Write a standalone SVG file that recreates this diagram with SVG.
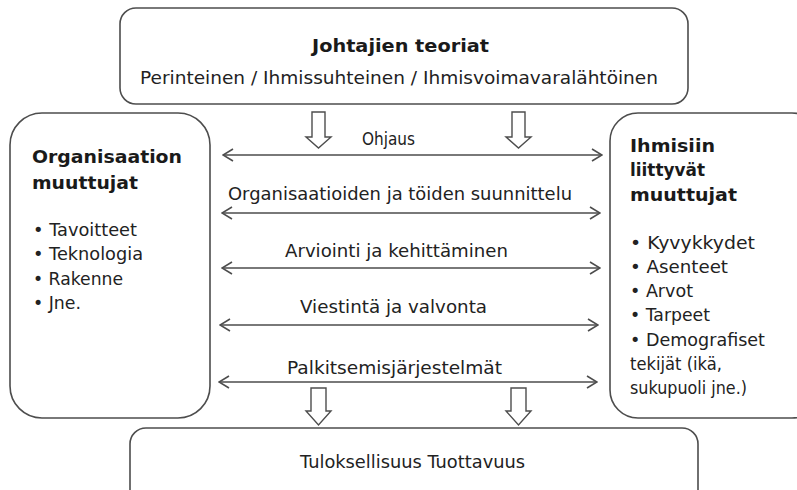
<svg xmlns="http://www.w3.org/2000/svg" width="797" height="490" viewBox="0 0 797 490">
<style>
.box{fill:#fff;stroke:#4d4d4d;stroke-width:1.6}
.t{font-family:"DejaVu Sans","Verdana",sans-serif;font-size:17px;fill:#222}
.b{font-family:"DejaVu Sans","Verdana",sans-serif;font-size:18px;fill:#222}
.h{font-family:"DejaVu Sans","Verdana",sans-serif;font-size:18px;font-weight:bold;fill:#1a1a1a}
.c{stroke:#4d4d4d;stroke-width:1.6;fill:none}
.hollow{fill:#fff;stroke:#4d4d4d;stroke-width:1.4;stroke-linejoin:miter}
</style>
<defs>
<marker id="open" viewBox="0 0 12 14" refX="11" refY="7" markerWidth="12" markerHeight="14" markerUnits="userSpaceOnUse" orient="auto-start-reverse">
<path d="M1,1 L11,7 L1,13" fill="none" stroke="#4d4d4d" stroke-width="1.6"/>
</marker>
</defs>
<rect width="797" height="490" fill="#fff"/>
<g id="node-top">
<rect class="box" x="120" y="8" width="568" height="96" rx="16"/>
<text class="h" x="312" y="52" textLength="177" lengthAdjust="spacingAndGlyphs">Johtajien teoriat</text>
<text class="t" x="140" y="84" textLength="518" lengthAdjust="spacingAndGlyphs">Perinteinen / Ihmissuhteinen / Ihmisvoimavaralähtöinen</text>
</g>
<g id="node-left">
<rect class="box" x="10" y="113" width="200" height="305" rx="32"/>
<text class="h" x="32" y="163" textLength="150" lengthAdjust="spacingAndGlyphs">Organisaation</text>
<text class="h" x="32" y="189" textLength="106" lengthAdjust="spacingAndGlyphs">muuttujat</text>
<text class="b" x="33" y="236" textLength="104" lengthAdjust="spacingAndGlyphs">• Tavoitteet</text>
<text class="b" x="33" y="260" textLength="110" lengthAdjust="spacingAndGlyphs">• Teknologia</text>
<text class="b" x="33" y="285" textLength="90" lengthAdjust="spacingAndGlyphs">• Rakenne</text>
<text class="b" x="33" y="309" textLength="48" lengthAdjust="spacingAndGlyphs">• Jne.</text>
</g>
<g id="node-right">
<rect class="box" x="610" y="113" width="210" height="305" rx="28"/>
<text class="h" x="630" y="152" textLength="85" lengthAdjust="spacingAndGlyphs">Ihmisiin</text>
<text class="h" x="630" y="176" textLength="75" lengthAdjust="spacingAndGlyphs">liittyvät</text>
<text class="h" x="630" y="201" textLength="107" lengthAdjust="spacingAndGlyphs">muuttujat</text>
<text class="b" x="630" y="249" textLength="125" lengthAdjust="spacingAndGlyphs">• Kyvykkydet</text>
<text class="b" x="630" y="273" textLength="98" lengthAdjust="spacingAndGlyphs">• Asenteet</text>
<text class="b" x="630" y="297" textLength="63" lengthAdjust="spacingAndGlyphs">• Arvot</text>
<text class="b" x="630" y="321" textLength="80" lengthAdjust="spacingAndGlyphs">• Tarpeet</text>
<text class="b" x="630" y="346" textLength="135" lengthAdjust="spacingAndGlyphs">• Demografiset</text>
<text class="b" x="630" y="370" textLength="92" lengthAdjust="spacingAndGlyphs">tekijät (ikä,</text>
<text class="b" x="630" y="394" textLength="117" lengthAdjust="spacingAndGlyphs">sukupuoli jne.)</text>
</g>
<g id="node-bottom">
<rect class="box" x="130" y="428" width="568" height="80" rx="16"/>
<text class="t" x="300" y="468" textLength="225" lengthAdjust="spacingAndGlyphs">Tuloksellisuus Tuottavuus</text>
</g>
<g id="connectors">
<path class="hollow" d="M312,112 H325 V137 H331 L318.5,148 L306,137 H312 Z"/>
<path class="hollow" d="M512,112 H525 V137 H531 L518.5,148 L506,137 H512 Z"/>
<path class="hollow" d="M311,388 H326 V411 H331 L318.5,425 L306,411 H311 Z"/>
<path class="hollow" d="M511,388 H526 V411 H531 L518.5,425 L506,411 H511 Z"/>
<line class="c" x1="223" y1="155" x2="602" y2="155" marker-start="url(#open)" marker-end="url(#open)"/>
<line class="c" x1="222" y1="213" x2="600" y2="213" marker-start="url(#open)" marker-end="url(#open)"/>
<line class="c" x1="222" y1="268" x2="600" y2="268" marker-start="url(#open)" marker-end="url(#open)"/>
<line class="c" x1="220" y1="325" x2="598" y2="325" marker-start="url(#open)" marker-end="url(#open)"/>
<line class="c" x1="219" y1="382" x2="597" y2="382" marker-start="url(#open)" marker-end="url(#open)"/>
<text class="b" x="362" y="145" textLength="53" lengthAdjust="spacingAndGlyphs">Ohjaus</text>
<text class="t" x="228" y="200" textLength="344" lengthAdjust="spacingAndGlyphs">Organisaatioiden ja töiden suunnittelu</text>
<text class="t" x="285" y="257" textLength="223" lengthAdjust="spacingAndGlyphs">Arviointi ja kehittäminen</text>
<text class="t" x="300" y="313" textLength="187" lengthAdjust="spacingAndGlyphs">Viestintä ja valvonta</text>
<text class="t" x="287" y="374" textLength="215" lengthAdjust="spacingAndGlyphs">Palkitsemisjärjestelmät</text>
</g>
</svg>
